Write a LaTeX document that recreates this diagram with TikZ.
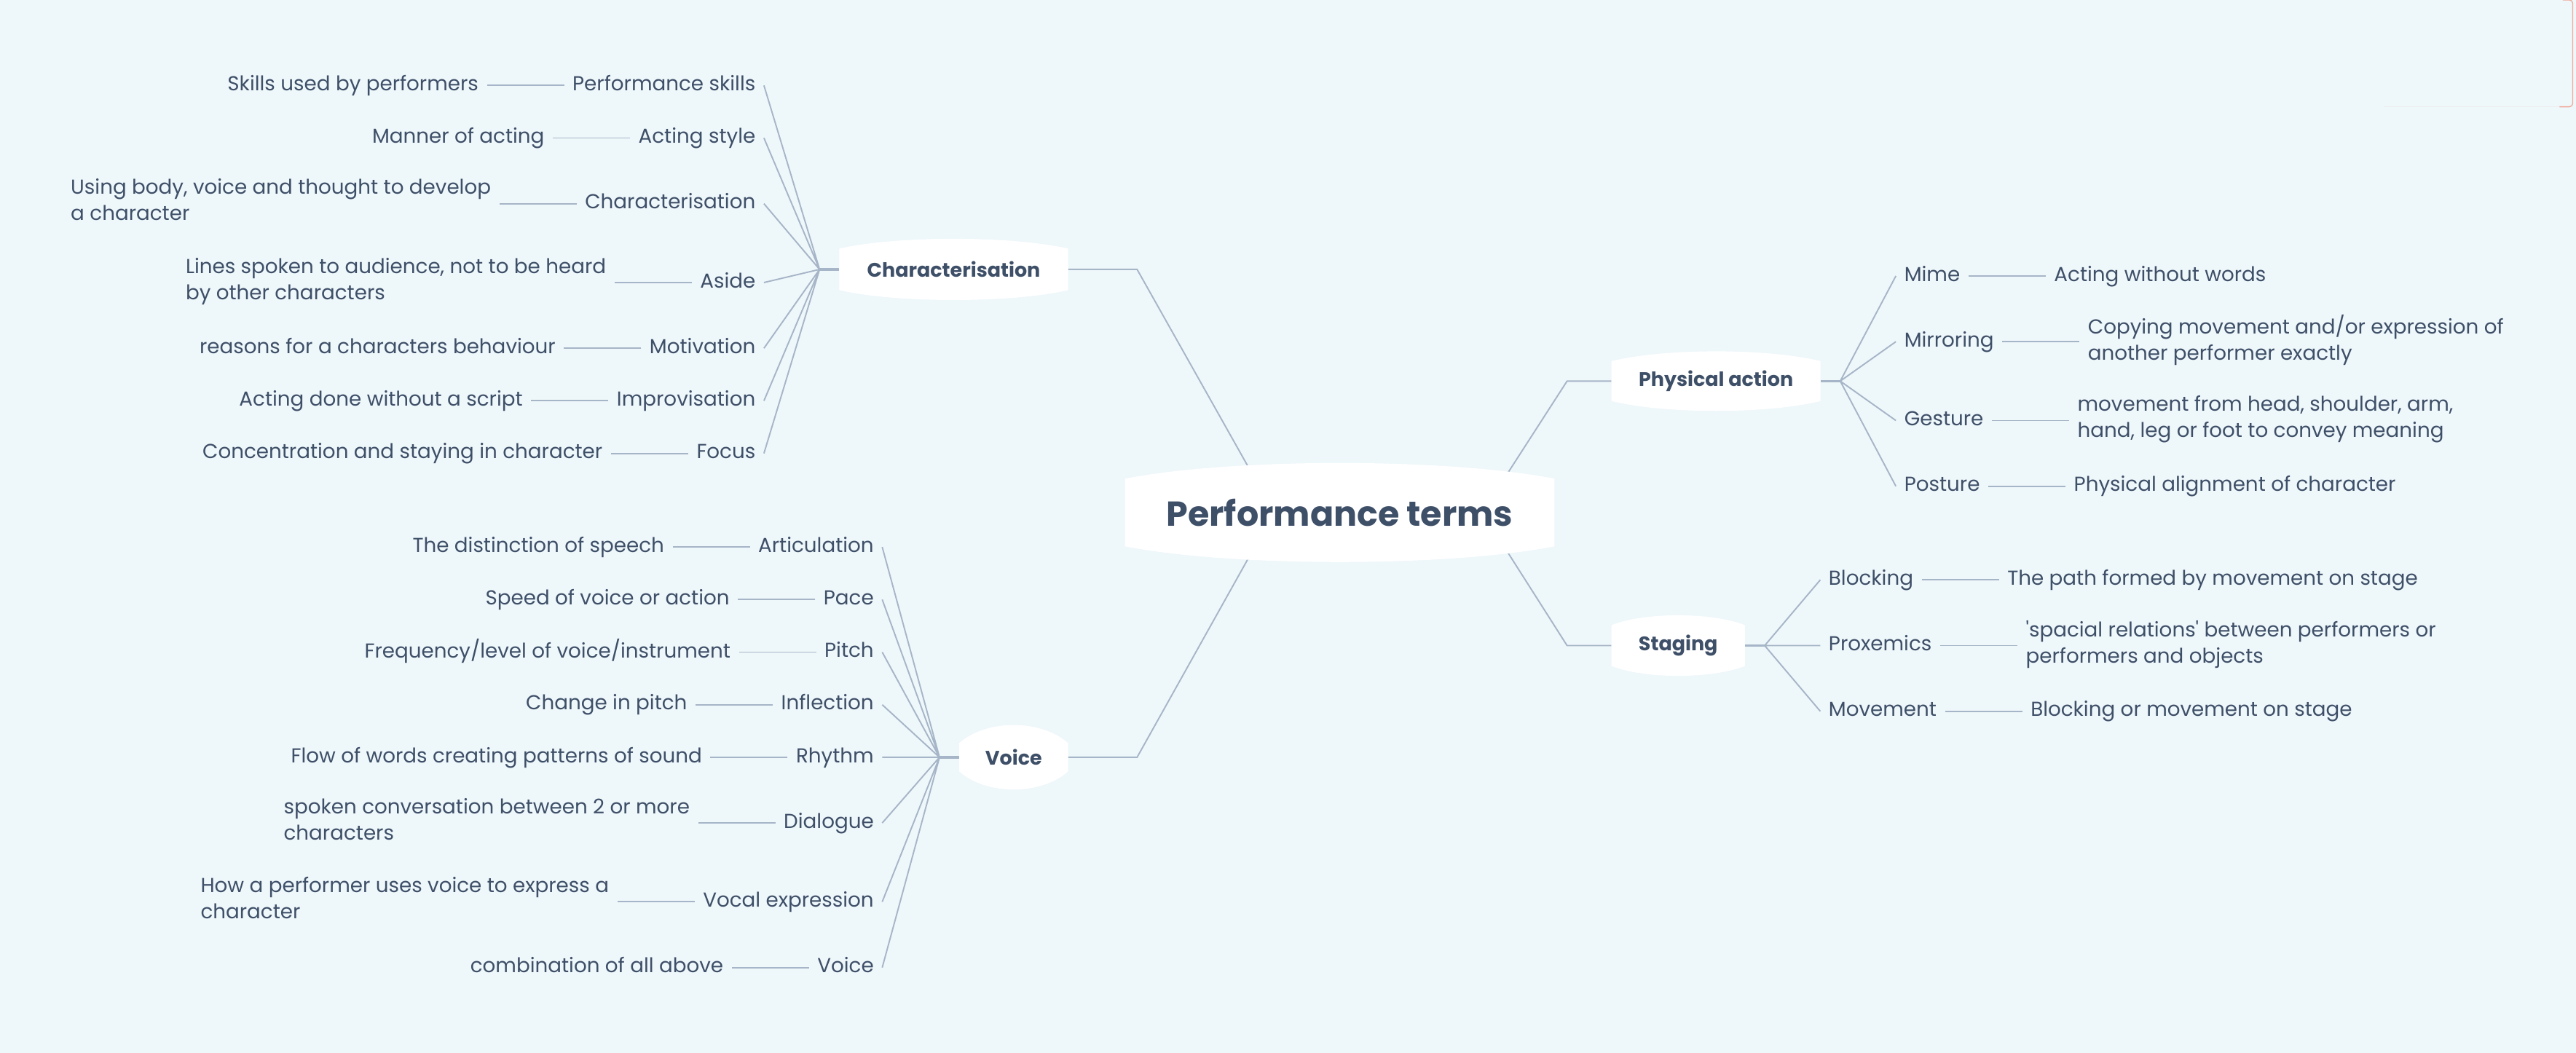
\documentclass[tikz,border=0pt]{standalone}
\usepackage{fontspec}
\setmainfont{Poppins}
\usepackage{tikz}
\usetikzlibrary{calc,positioning}
\definecolor{pagebg}{HTML}{EEF7FA}
\definecolor{ink}{HTML}{3E4F68}
\definecolor{wirec}{HTML}{A6B5C7}
\definecolor{edgered}{HTML}{E8826C}
\pgfdeclarelayer{back}
\pgfsetlayers{back,main}
\tikzset{
  wire/.style={draw=wirec,line width=1.2pt},
  stub/.style={draw=wirec,line width=2.2pt},
  core/.style={inner sep=0pt,text=ink,font=\fontsize{30}{34}\selectfont\bfseries},
  topic/.style={inner sep=0pt,text=ink,font=\fontsize{17}{20}\selectfont\bfseries},
  term/.style={inner xsep=2.5mm,inner ysep=0pt,text=ink,font=\fontsize{17.5}{22.7}\selectfont,execute at begin node=\strut},
  note/.style={term,align=left,execute at end node=\strut}
}
% white bubble behind a node: #1 node, #2 bulge of top and bottom
\newcommand{\bubble}[2]{%
  \fill[white] (#1.north west) -- (#1.south west)
    .. controls ($(#1.south west)!.25!(#1.south east)+(0,#2*4/3)$) and ($(#1.south west)!.75!(#1.south east)+(0,#2*4/3)$) .. (#1.south east)
    -- (#1.north east)
    .. controls ($(#1.north west)!.75!(#1.north east)+(0,-#2*4/3)$) and ($(#1.north west)!.25!(#1.north east)+(0,-#2*4/3)$) .. cycle;}

\begin{document}
\begin{tikzpicture}[x=0.5mm,y=-0.5mm]
\begin{pgfonlayer}{back}
\fill[pagebg] (0,0) rectangle (1568,641);
\end{pgfonlayer}
\useasboundingbox (0,0) rectangle (1568,641);
\draw[black!7] (1451,65) -- (1562,65);
\draw[edgered!70,line width=0.8pt,rounded corners=1mm] (1558,65) -- (1566,65) -- (1566,0) -- (1560,0);

% centre and topics
\node[core,minimum width=130.5mm,minimum height=20.5mm] (pt) at (815.5,312) {Performance terms};
\node[topic,minimum width=69.5mm,minimum height=12.5mm] (chr) at (580.5,164) {Characterisation};
\node[topic,minimum width=33mm,minimum height=8.5mm] (voi) at (617,461) {Voice};
\node[topic,minimum width=63.5mm,minimum height=12mm] (phy) at (1044.5,232) {Physical action};
\node[topic,minimum width=40.5mm,minimum height=12.3mm] (stg) at (1021.5,393) {Staging};
\coordinate (hc) at ([xshift=-6mm]chr.west);
\coordinate (hv) at ([xshift=-6mm]voi.west);
\coordinate (hp) at ([xshift=6mm]phy.east);
\coordinate (hs) at ([xshift=6mm]stg.east);

\begin{pgfonlayer}{back}
\draw[wire] ([shift={(-44,-7)}]pt.center) -- ([xshift=21mm]chr.east) -- (chr.east);
\draw[wire] ([shift={(-44,7)}]pt.center) -- ([xshift=21mm]voi.east) -- (voi.east);
\draw[wire] ([shift={(90,-5)}]pt.center) -- ([xshift=-13.5mm]phy.west) -- (phy.west);
\draw[wire] ([shift={(90,5)}]pt.center) -- ([xshift=-13.5mm]stg.west) -- (stg.west);
\draw[stub] (chr.west) -- (hc);
\draw[stub] (voi.west) -- (hv);
\draw[stub] (phy.east) -- (hp);
\draw[stub] (stg.east) -- (hs);
\bubble{pt}{9.5}
\bubble{chr}{6}
\bubble{voi}{11}
\bubble{phy}{6}
\bubble{stg}{6}
\end{pgfonlayer}

% Characterisation
\node[term,anchor=east] (c1) at (465,52) {Performance skills};
\node[note,left=23.5mm of c1] (c1n) {Skills used by performers};
\node[term,anchor=east] (c2) at (465,84) {Acting style};
\node[note,left=23.5mm of c2] (c2n) {Manner of acting};
\node[term,anchor=east] (c3) at (465,124) {Characterisation};
\node[note,left=23.5mm of c3] (c3n) {Using body, voice and thought to develop\\a character};
\node[term,anchor=east] (c4) at (465,172) {Aside};
\node[note,left=23.5mm of c4] (c4n) {Lines spoken to audience, not to be heard\\by other characters};
\node[term,anchor=east] (c5) at (465,212) {Motivation};
\node[note,left=23.5mm of c5] (c5n) {reasons for a characters behaviour};
\node[term,anchor=east] (c6) at (465,244) {Improvisation};
\node[note,left=23.5mm of c6] (c6n) {Acting done without a script};
\node[term,anchor=east] (c7) at (465,276) {Focus};
\node[note,left=23.5mm of c7] (c7n) {Concentration and staying in character};

% Voice
\node[term,anchor=east] (v1) at (537,333) {Articulation};
\node[note,left=23.5mm of v1] (v1n) {The distinction of speech};
\node[term,anchor=east] (v2) at (537,365) {Pace};
\node[note,left=23.5mm of v2] (v2n) {Speed of voice or action};
\node[term,anchor=east] (v3) at (537,397) {Pitch};
\node[note,left=23.5mm of v3] (v3n) {Frequency/level of voice/instrument};
\node[term,anchor=east] (v4) at (537,429) {Inflection};
\node[note,left=23.5mm of v4] (v4n) {Change in pitch};
\node[term,anchor=east] (v5) at (537,461) {Rhythm};
\node[note,left=23.5mm of v5] (v5n) {Flow of words creating patterns of sound};
\node[term,anchor=east] (v6) at (537,501) {Dialogue};
\node[note,left=23.5mm of v6] (v6n) {spoken conversation between 2 or more\\characters};
\node[term,anchor=east] (v7) at (537,549) {Vocal expression};
\node[note,left=23.5mm of v7] (v7n) {How a performer uses voice to express a\\character};
\node[term,anchor=east] (v8) at (537,589) {Voice};
\node[note,left=23.5mm of v8] (v8n) {combination of all above};

% Physical action
\node[term,anchor=west] (p1) at (1154,168) {Mime};
\node[note,right=23.5mm of p1] (p1n) {Acting without words};
\node[term,anchor=west] (p2) at (1154,208) {Mirroring};
\node[note,right=23.5mm of p2] (p2n) {Copying movement and/or expression of\\another performer exactly};
\node[term,anchor=west] (p3) at (1154,256) {Gesture};
\node[note,right=23.5mm of p3] (p3n) {movement from head, shoulder, arm,\\hand, leg or foot to convey meaning};
\node[term,anchor=west] (p4) at (1154,296) {Posture};
\node[note,right=23.5mm of p4] (p4n) {Physical alignment of character};

% Staging
\node[term,anchor=west] (s1) at (1108,353) {Blocking};
\node[note,right=23.5mm of s1] (s1n) {The path formed by movement on stage};
\node[term,anchor=west] (s2) at (1108,393) {Proxemics};
\node[note,right=23.5mm of s2] (s2n) {\textquotesingle spacial relations\textquotesingle{} between performers or\\performers and objects};
\node[term,anchor=west] (s3) at (1108,433) {Movement};
\node[note,right=23.5mm of s3] (s3n) {Blocking or movement on stage};

% fans
\draw[wire] (hc) -- (c1.east) (hc) -- (c2.east) (hc) -- (c3.east) (hc) -- (c4.east)
  (hc) -- (c5.east) (hc) -- (c6.east) (hc) -- (c7.east);
\draw[wire] (hv) -- (v1.east) (hv) -- (v2.east) (hv) -- (v3.east) (hv) -- (v4.east)
  (hv) -- (v5.east) (hv) -- (v6.east) (hv) -- (v7.east) (hv) -- (v8.east);
\draw[wire] (hp) -- (p1.west) (hp) -- (p2.west) (hp) -- (p3.west) (hp) -- (p4.west);
\draw[wire] (hs) -- (s1.west) (hs) -- (s2.west) (hs) -- (s3.west);

% term to note
\draw[wire] (c1) -- (c1n) (c2) -- (c2n) (c3) -- (c3n) (c4) -- (c4n) (c5) -- (c5n) (c6) -- (c6n) (c7) -- (c7n);
\draw[wire] (v1) -- (v1n) (v2) -- (v2n) (v3) -- (v3n) (v4) -- (v4n) (v5) -- (v5n) (v6) -- (v6n) (v7) -- (v7n) (v8) -- (v8n);
\draw[wire] (p1) -- (p1n) (p2) -- (p2n) (p3) -- (p3n) (p4) -- (p4n);
\draw[wire] (s1) -- (s1n) (s2) -- (s2n) (s3) -- (s3n);
\end{tikzpicture}
\end{document}
